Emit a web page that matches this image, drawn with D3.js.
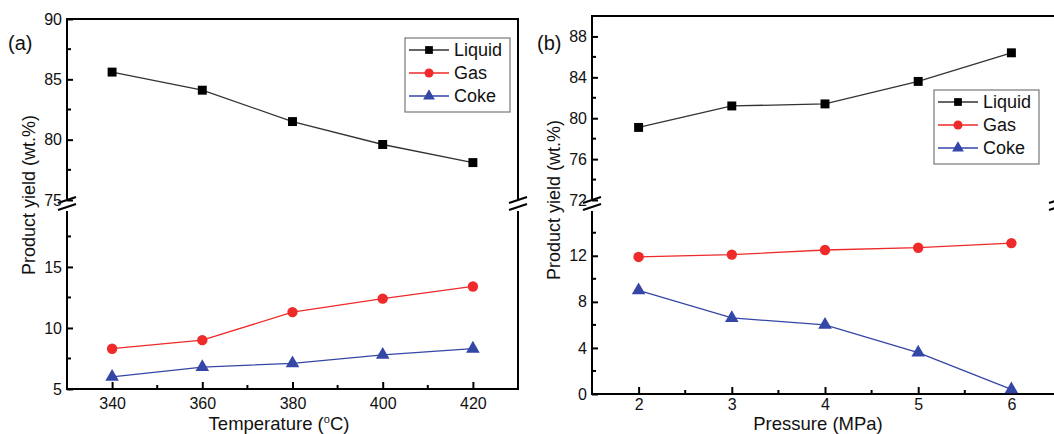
<!DOCTYPE html>
<html>
<head>
<meta charset="utf-8">
<script src="https://cdn.jsdelivr.net/npm/d3@7"></script>
<style>
    body { margin: 0; background: #fff; }
    svg text { font-family: Arial, "Liberation Sans", sans-serif; fill: #111; }
</style>
</head>
<body>
<svg id="chart" width="1054" height="434"></svg>
<script>
// panel (a): temperature series
var temps = [340, 360, 380, 400, 420];
var liquid_a = [85.6, 84.1, 81.5, 79.6, 78.1];
var gas_a = [8.3, 9.0, 11.3, 12.4, 13.4];
var coke_a = [6.0, 6.8, 7.1, 7.8, 8.3];
var xticks_a = [340, 360, 380, 400, 420];
var yticks_a_top = [75, 80, 85, 90];
var yticks_a_bot = [5, 10, 15];

// panel (b): pressure series
var pressures = [2, 3, 4, 5, 6];
var liquid_b = [79.1, 81.2, 81.4, 83.6, 86.4];
var gas_b = [11.9, 12.1, 12.5, 12.7, 13.1];
var coke_b = [9.0, 6.6, 6.0, 3.6, 0.4];
var xticks_b = [2, 3, 4, 5, 6];
var yticks_b_top = [72, 76, 80, 84, 88];
var yticks_b_bot = [0, 4, 8, 12];

var series_names = ['Liquid', 'Gas', 'Coke'];
var colors = { Liquid: '#000', Gas: '#ee2a2a', Coke: '#3446a6' };
var line_colors = { Liquid: '#333', Gas: '#ee2a2a', Coke: '#3446a6' };
var symbols = { Liquid: d3.symbolSquare, Gas: d3.symbolCircle, Coke: d3.symbolTriangle };
var sizes = { Liquid: 80, Gas: 85, Coke: 80 };

var svg = d3.select('#chart');

function drawPanel(cfg) {
    var g = svg.append('g');
    var x = d3.scaleLinear().domain(cfg.xdom).range([cfg.left, cfg.right]);
    var ytop = d3.scaleLinear().domain(cfg.topdom).range([cfg.brk, cfg.top]);
    var ybot = d3.scaleLinear().domain(cfg.botdom).range([cfg.bottom, cfg.brk + 12]);

    // frame, with gaps for the axis break
    var fr = g.append('g').attr('stroke', '#000').attr('stroke-width', 2).attr('fill', 'none');
    fr.append('path').attr('d', 'M' + cfg.left + ',' + (cfg.brk - 1) + 'V' + cfg.top + 'H' + cfg.right + 'V' + (cfg.brk - 1));
    fr.append('path').attr('d', 'M' + cfg.left + ',' + (cfg.brk + 11) + 'V' + cfg.bottom + 'H' + cfg.right + 'V' + (cfg.brk + 11));

    // break marks
    [cfg.left, cfg.right].forEach(function(bx) {
        [0, 7].forEach(function(off) {
            g.append('line')
                .attr('x1', bx - 9).attr('y1', cfg.brk + off + 3)
                .attr('x2', bx + 9).attr('y2', cfg.brk + off - 3)
                .attr('stroke', '#000').attr('stroke-width', 2);
        });
    });

    // y axes (ticks point inward)
    var yaxis_top = d3.axisRight(ytop).tickValues(cfg.ytop).tickSize(6).tickFormat(d3.format('d'));
    var yaxis_bot = d3.axisRight(ybot).tickValues(cfg.ybot).tickSize(6).tickFormat(d3.format('d'));
    [[yaxis_top, cfg.yminor_top, ytop], [yaxis_bot, cfg.yminor_bot, ybot]].forEach(function(a) {
        var ag = g.append('g').attr('transform', 'translate(' + cfg.left + ',0)').call(a[0]);
        ag.select('.domain').remove();
        ag.selectAll('.tick line').attr('stroke', '#000').attr('stroke-width', 2);
        ag.selectAll('.tick text').attr('x', -5).attr('text-anchor', 'end')
            .style('font-size', '16px');
        g.append('g').selectAll('line').data(a[1]).enter().append('line')
            .attr('x1', cfg.left).attr('x2', cfg.left + 4)
            .attr('y1', d => a[2](d)).attr('y2', d => a[2](d))
            .attr('stroke', '#000').attr('stroke-width', 2);
    });

    // x axis
    var xaxis = d3.axisTop(x).tickValues(cfg.xticks).tickSize(7).tickFormat(d3.format('d'));
    var xg = g.append('g').attr('transform', 'translate(0,' + cfg.bottom + ')').call(xaxis);
    xg.select('.domain').remove();
    xg.selectAll('.tick line').attr('stroke', '#000').attr('stroke-width', 2);
    xg.selectAll('.tick text').attr('y', cfg.tickY).attr('dy', 0).style('font-size', '16px');
    g.append('g').selectAll('line').data(cfg.xminor).enter().append('line')
        .attr('x1', d => x(d)).attr('x2', d => x(d))
        .attr('y1', cfg.bottom).attr('y2', cfg.bottom - 4)
        .attr('stroke', '#000').attr('stroke-width', 2);

    // series
    cfg.series.forEach(function(s) {
        var yscale = s.name == 'Liquid' ? ytop : ybot;
        var pts = cfg.xs.map(function(xv, i) { return [x(xv), yscale(s.values[i])]; });
        g.append('path')
            .attr('d', d3.line()(pts))
            .attr('fill', 'none')
            .attr('stroke', line_colors[s.name])
            .attr('stroke-width', 1.3);
        g.append('g').selectAll('path').data(pts).enter().append('path')
            .attr('d', d3.symbol().type(symbols[s.name]).size(sizes[s.name]))
            .attr('transform', d => 'translate(' + d[0] + ',' + d[1] + ')')
            .attr('fill', colors[s.name]);
    });

    // legend
    var lg = g.append('g').attr('transform', 'translate(' + cfg.legend[0] + ',' + cfg.legend[1] + ')');
    lg.append('rect').attr('width', 105).attr('height', 74)
        .attr('fill', '#fff').attr('stroke', '#777').attr('stroke-width', 1.2);
    series_names.forEach(function(n, i) {
        var ly = 12 + i * 23;
        lg.append('line').attr('x1', 4).attr('x2', 44).attr('y1', ly).attr('y2', ly)
            .attr('stroke', line_colors[n]).attr('stroke-width', 1.3);
        lg.append('path')
            .attr('d', d3.symbol().type(symbols[n]).size(sizes[n] * 0.75))
            .attr('transform', 'translate(24,' + ly + ')')
            .attr('fill', colors[n]);
        lg.append('text').attr('x', 49).attr('y', ly + 6).text(n).style('font-size', '18px');
    });

    // labels
    g.append('text').attr('x', cfg.tag[0]).attr('y', cfg.tag[1]).text(cfg.tagText).style('font-size', '20px');
    g.append('text')
        .attr('transform', 'translate(' + cfg.ylabelX + ',' + cfg.ylabelY + ') rotate(-90)')
        .attr('text-anchor', 'middle').style('font-size', '18px')
        .text('Product yield (wt.%)');
    var xl = g.append('text').attr('x', cfg.xlabelX).attr('y', 430)
        .attr('text-anchor', 'middle').style('font-size', '18.5px');
    if (cfg.degree) {
        xl.append('tspan').text('Temperature (');
        xl.append('tspan').text('o').attr('dy', -7).style('font-size', '11px');
        xl.append('tspan').text('C)').attr('dy', 7);
    } else {
        xl.text(cfg.xlabel);
    }
}

drawPanel({
    left: 67, right: 518, top: 19, bottom: 389, brk: 200, tickY: 20,
    xdom: [330, 430], topdom: [75, 90], botdom: [5, 19.5],
    xs: temps, xticks: xticks_a, xminor: [350, 370, 390, 410],
    ytop: yticks_a_top, ybot: yticks_a_bot,
    yminor_top: [77.5, 82.5, 87.5], yminor_bot: [7.5, 12.5, 17.5],
    series: [
        { name: 'Liquid', values: liquid_a },
        { name: 'Gas', values: gas_a },
        { name: 'Coke', values: coke_a },
    ],
    legend: [405, 38], tag: [8, 50], tagText: '(a)', ylabelX: 35, ylabelY: 195,
    degree: true, xlabelX: 279,
});

drawPanel({
    left: 592, right: 1058, top: 16, bottom: 394, brk: 200, tickY: 16,
    xdom: [1.5, 6.5], topdom: [72, 90], botdom: [0, 15.8],
    xs: pressures, xticks: xticks_b, xminor: [2.5, 3.5, 4.5, 5.5],
    ytop: yticks_b_top, ybot: yticks_b_bot,
    yminor_top: [74, 78, 82, 86], yminor_bot: [2, 6, 10, 14],
    series: [
        { name: 'Liquid', values: liquid_b },
        { name: 'Gas', values: gas_b },
        { name: 'Coke', values: coke_b },
    ],
    legend: [934, 90], tag: [537, 50], tagText: '(b)', ylabelX: 560, ylabelY: 200,
    xlabel: 'Pressure (MPa)', xlabelX: 818,
});
</script>
</body>
</html>
